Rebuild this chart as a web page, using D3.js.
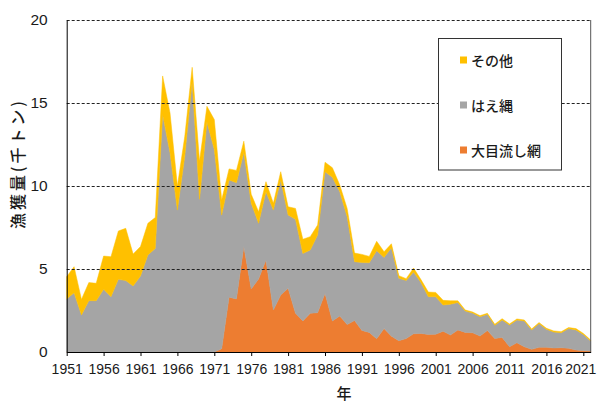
<!DOCTYPE html>
<html>
<head>
<meta charset="utf-8">
<script src="https://cdn.jsdelivr.net/npm/d3@7.9.0/dist/d3.min.js"></script>
<style>
  html, body { margin: 0; padding: 0; background: #fff; }
  svg { display: block; }
  text { font-family: "Liberation Sans", Arial, sans-serif; fill: #1a1a1a; }
  .jp { font-family: "Noto Sans CJK JP", sans-serif; font-weight: 500; }
</style>
</head>
<body>
<svg id="chart" width="598" height="401"></svg>
<script>
// catch by year, thousand tonnes
const years = d3.range(1951, 2023);

const driftnet = [
  0, 0, 0, 0, 0, 0, 0, 0, 0, 0,
  0, 0, 0, 0, 0, 0, 0, 0, 0, 0,
  0, 0.2, 3.3, 3.2, 6.35, 3.8, 4.4, 5.54, 2.53, 3.43,
  3.84, 2.33, 1.87, 2.33, 2.37, 3.53, 1.87, 2.17, 1.65, 1.9,
  1.3, 1.18, 0.8, 1.41, 0.95, 0.68, 0.81, 1.1, 1.12, 1.06,
  1.07, 1.25, 1.02, 1.33, 1.18, 1.16, 0.96, 1.29, 0.82, 0.88,
  0.32, 0.56, 0.32, 0.16, 0.28, 0.28, 0.24, 0.26, 0.22, 0.12,
  0.08, 0.06
];

const longline = [
  3.19, 3.57, 2.23, 3.09, 3.09, 3.78, 3.33, 4.38, 4.30, 3.98,
  4.58, 5.84, 6.24, 14.3, 12.0, 8.55, 11.8, 16.3, 9.2, 13.85,
  12.2, 8.05, 7.06, 7.0, 5.68, 5.16, 3.35, 4.12, 6.02, 6.93,
  4.41, 5.66, 4.07, 3.81, 4.68, 7.33, 8.65, 7.49, 6.5, 3.54,
  4.09, 4.2, 5.3, 4.29, 5.33, 3.77, 3.49, 3.72, 3.06, 2.27,
  2.26, 1.58, 1.86, 1.65, 1.29, 1.19, 1.17, 0.98, 0.79, 1.05,
  1.31, 1.37, 1.55, 1.17, 1.43, 1.09, 0.96, 0.9, 1.19, 1.21,
  0.98, 0.6
];

const other = [
  1.35, 1.57, 0.94, 1.09, 1.05, 2.0, 2.41, 2.91, 3.15, 1.92,
  1.77, 1.91, 1.86, 2.33, 2.4, 1.45, 1.2, 0.85, 2.3, 0.95,
  1.8, 0.91, 0.67, 0.74, 0.67, 0.54, 0.7, 0.6, 0.41, 0.5,
  0.5, 0.66, 0.85, 0.81, 0.6, 0.57, 0.58, 0.4, 0.5, 0.52,
  0.49, 0.38, 0.57, 0.34, 0.24, 0.15, 0.12, 0.24, 0.18, 0.28,
  0.26, 0.28, 0.21, 0.1, 0.06, 0.06, 0.06, 0.06, 0.06, 0.08,
  0.06, 0.06, 0.06, 0.06, 0.06, 0.06, 0.07, 0.06, 0.06, 0.08,
  0.06, 0.06
];

const seriesNames = ['大目流し網', 'はえ縄', 'その他'];
const seriesColors = ['#ED7D31', '#A5A5A5', '#FFC000'];
const yTicks = [0, 5, 10, 15, 20];
const xTicks = d3.range(1951, 2022, 5);

const table = years.map((yr, i) => ({
  year: yr,
  '大目流し網': driftnet[i],
  'はえ縄': longline[i],
  'その他': other[i]
}));

const svg = d3.select('#chart');
const plotL = 66.7, plotR = 590.7, plotT = 20, plotB = 352;

const x = d3.scaleLinear().domain([1951, 2022]).range([plotL, plotR]);
const y = d3.scaleLinear().domain([0, 20]).range([plotB, plotT]);
const color = d3.scaleOrdinal(seriesNames, seriesColors);

const stacked = d3.stack().keys(seriesNames)(table);
const area = d3.area()
  .x(d => x(d.data.year))
  .y0(d => y(d[0]))
  .y1(d => y(d[1]));

svg.append('g').selectAll('path')
  .data(stacked)
  .join('path')
  .attr('d', area)
  .attr('fill', d => color(d.key))
  .attr('stroke', d => color(d.key))
  .attr('stroke-width', 0.5);

// dashed gridlines
svg.append('g').selectAll('line')
  .data(yTicks.filter(t => t > 0))
  .join('line')
  .attr('x1', plotL).attr('x2', plotR)
  .attr('y1', d => y(d) + 0.5).attr('y2', d => y(d) + 0.5)
  .attr('stroke', '#222')
  .attr('stroke-width', 1)
  .attr('stroke-dasharray', '3,2');

// right border
svg.append('line')
  .attr('x1', plotR).attr('x2', plotR)
  .attr('y1', plotT).attr('y2', plotB)
  .attr('stroke', '#555');

const yAxis = svg.append('g')
  .attr('transform', `translate(${plotL},0)`)
  .call(d3.axisLeft(y).tickValues(yTicks).tickSize(0).tickPadding(19));
yAxis.select('.domain').attr('stroke', '#000');
yAxis.selectAll('text')
  .style('font-size', '15.5px')
  .style('font-family', '"Liberation Sans", Arial, sans-serif')
  .attr('fill', '#1a1a1a');

const xAxis = svg.append('g')
  .attr('transform', `translate(0,${plotB})`)
  .call(d3.axisBottom(x).tickValues(xTicks).tickFormat(d3.format('d')).tickSize(4).tickPadding(8).tickSizeOuter(0));
xAxis.select('.domain').attr('stroke', '#000');
xAxis.selectAll('.tick line').attr('stroke', '#000');
xAxis.selectAll('text')
  .style('font-size', '14px')
  .style('font-family', '"Liberation Sans", Arial, sans-serif')
  .attr('fill', '#1a1a1a')
  .attr('dx', d => d === 2021 ? -3 : 0);

// axis titles
svg.append('text')
  .attr('class', 'jp')
  .attr('transform', 'translate(17,165) rotate(-90)')
  .attr('text-anchor', 'middle')
  .attr('dominant-baseline', 'central')
  .attr('textLength', 128)
  .attr('lengthAdjust', 'spacing')
  .style('font-size', '16px')
  .text('漁獲量(千トン)');

svg.append('text')
  .attr('class', 'jp')
  .attr('x', 344).attr('y', 392)
  .attr('text-anchor', 'middle')
  .attr('dominant-baseline', 'central')
  .style('font-size', '15px')
  .text('年');

// legend
const legend = svg.append('g');
legend.append('rect')
  .attr('x', 438.5).attr('y', 38.5)
  .attr('width', 123).attr('height', 131.5)
  .attr('fill', '#fff')
  .attr('stroke', '#333');

const legendOrder = seriesNames.slice().reverse();
const item = legend.selectAll('g.item')
  .data(legendOrder)
  .join('g')
  .attr('class', 'item')
  .attr('transform', (d, i) => `translate(460,${60 + i * 45})`);
item.append('rect')
  .attr('x', 0).attr('y', -3.5)
  .attr('width', 7).attr('height', 7)
  .attr('fill', d => color(d));
item.append('text')
  .attr('class', 'jp')
  .attr('x', 11).attr('y', 0)
  .attr('dominant-baseline', 'central')
  .style('font-size', '14px')
  .text(d => d);
</script>
</body>
</html>
